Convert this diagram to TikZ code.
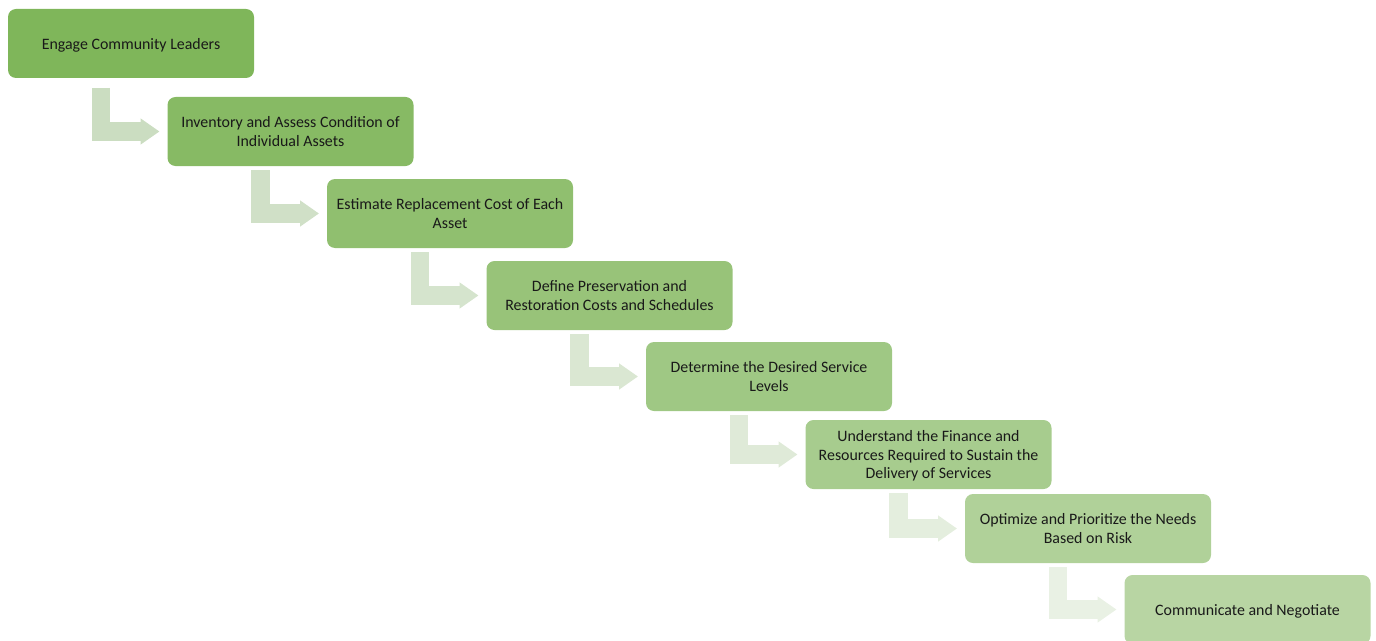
\documentclass[tikz,border=0pt]{standalone}
\usepackage{fontspec}
\setmainfont{Carlito}
\usepackage{tikz}
\usetikzlibrary{arrows.meta,positioning}
\definecolor{stagedark}{RGB}{127,182,90}
\definecolor{stagelight}{RGB}{184,213,163}
\definecolor{flowdark}{RGB}{203,221,193}
\definecolor{flowlight}{RGB}{233,241,228}
\tikzset{
	stage/.style={fill=stagedark!#1!stagelight,rounded corners=8bp,minimum width=246bp,minimum height=69bp,inner sep=0pt,outer sep=0pt,align=center,text depth=0pt,text=black!90,font=\fontsize{15.9bp}{18.3bp}\selectfont},
	flow/.style={draw=flowdark!#1!flowlight,line width=18.5bp,line cap=butt,line join=miter,-{Triangle[width=25bp,length=19bp]}}
}

\begin{document}
\begin{tikzpicture}[x=1bp,y=1bp]
			\useasboundingbox (0,0) rectangle (1376,-641);
			\node[stage=100,anchor=north west] (b1) at (8,-9) {Engage Community Leaders};
			\node[stage=86,below right=19bp and 159.5bp of b1.south west] (b2) {Inventory and Assess Condition of\\Individual Assets};
			\node[stage=71,below right=13bp and 159.5bp of b2.south west] (b3) {Estimate Replacement Cost of Each\\Asset};
			\node[stage=57,below right=13bp and 159.5bp of b3.south west] (b4) {Define Preservation and\\Restoration Costs and Schedules};
			\node[stage=43,below right=12bp and 159.5bp of b4.south west] (b5) {Determine the Desired Service\\Levels};
			\node[stage=29,below right=9bp and 159.5bp of b5.south west] (b6) {Understand the Finance and\\Resources Required to Sustain the\\Delivery of Services};
			\node[stage=14,below right=5bp and 159.5bp of b6.south west] (b7) {Optimize and Prioritize the Needs\\Based on Risk};
			\node[stage=0,below right=12bp and 159.5bp of b7.south west] (b8) {Communicate and Negotiate};
			% bent arrows between the stages
			\draw[flow=100] ([xshift=93bp,yshift=-10bp]b1.south west) |- ([xshift=-8bp]b2.west);
			\foreach \a/\b/\p in {b2/b3/83,b3/b4/67,b4/b5/50,b5/b6/33,b6/b7/17,b7/b8/0}
				\draw[flow=\p] ([xshift=93bp,yshift=-4bp]\a.south west) |- ([xshift=-8bp]\b.west);
		\end{tikzpicture}
\end{document}
